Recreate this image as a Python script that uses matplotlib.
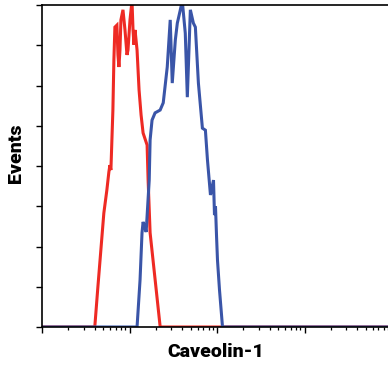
import matplotlib
matplotlib.use("Agg")
import matplotlib.pyplot as plt
from matplotlib.ticker import LogLocator, NullFormatter, MultipleLocator

# Control (red) histogram: intensity vs events
red_x = [1, 4.01, 4.35, 5.09, 5.51, 5.81, 5.97, 6.13, 6.46, 6.63, 6.81, 7.18, 7.38, 7.57,
         7.78, 7.98, 8.42, 8.88, 9.36, 9.61, 10.13, 10.68, 10.97, 11.26, 11.57, 11.88,
         12.20, 12.86, 13.56, 14.30, 15.89, 16.32, 17.20, 19.64, 22.42, 10000]
red_y = [0, 0, 0.99, 2.83, 3.40, 3.85, 4.02, 3.90, 5.39, 6.63, 7.45, 7.50, 6.76, 6.46,
         6.88, 7.63, 7.88, 7.38, 6.76, 6.88, 7.63, 8.10, 7.38, 7.01, 7.38, 7.13,
         6.88, 5.89, 5.27, 4.82, 4.52, 3.65, 2.34, 1.17, 0, 0]

# Caveolin-1 stained (blue) histogram
blue_x = [1, 12.2, 13.2, 13.9, 14.3, 15.07, 15.5, 16.8, 17.2, 18.1, 19.6, 22.4, 24.3,
          27.0, 29.2, 30.8, 33.4, 35.2, 38.1, 40.1, 43.4, 45.8, 49.6, 53.7, 56.6, 61.3,
          68.1, 73.7, 77.8, 84.2, 86.5, 91.2, 93.6, 96.1, 98.7, 101.3, 106.8, 115.6, 10000]
blue_y = [0, 0, 1.17, 2.34, 2.61, 2.46, 2.36, 3.65, 4.65, 5.14, 5.32, 5.39, 5.57,
          6.46, 7.63, 6.06, 7.13, 7.55, 7.88, 8.10, 7.30, 5.71, 7.88, 7.55, 7.45, 6.06,
          4.94, 4.89, 4.15, 3.28, 3.40, 3.65, 2.78, 3.00, 2.28, 1.66, 0.92, 0, 0]

x_label = "Caveolin-1"
y_label = "Events"

W, H = 388, 366
fig = plt.figure(figsize=(W / 100, H / 100), dpi=100)
ax = fig.add_axes([42 / W, (H - 327) / H, 350 / W, 322 / H])

ax.plot(red_x, red_y, color="#ee2a24", lw=2.2, solid_joinstyle="miter", clip_on=True)
ax.plot(blue_x, blue_y, color="#3a55a8", lw=2.2, solid_joinstyle="miter", clip_on=True)

ax.set_xscale("log")
ax.set_xlim(1, 10000)
ax.set_ylim(0, 8)
ax.xaxis.set_major_locator(LogLocator(base=10, numticks=10))
ax.xaxis.set_minor_locator(LogLocator(base=10, subs=range(2, 10), numticks=50))
ax.xaxis.set_major_formatter(NullFormatter())
ax.xaxis.set_minor_formatter(NullFormatter())
ax.yaxis.set_major_locator(MultipleLocator(1))
ax.yaxis.set_major_formatter(NullFormatter())

ax.tick_params(axis="both", which="major", direction="out", length=4.5, width=1.0, color="black")
ax.tick_params(axis="x", which="minor", direction="out", length=2.5, width=0.9, color="black")
for s in ["left", "bottom", "top"]:
    ax.spines[s].set_linewidth(1.2)
    ax.spines[s].set_color("black")
ax.spines["right"].set_visible(False)

font = dict(family=["Roboto", "DejaVu Sans"], weight="heavy", size=14)
fig.text(216 / W, 1 - 352 / H, x_label, ha="center", va="center", **font)
fig.text(16 / W, 1 - 153 / H, y_label, ha="center", va="center", rotation=90, **font)

fig.savefig("out.png", dpi=100)
